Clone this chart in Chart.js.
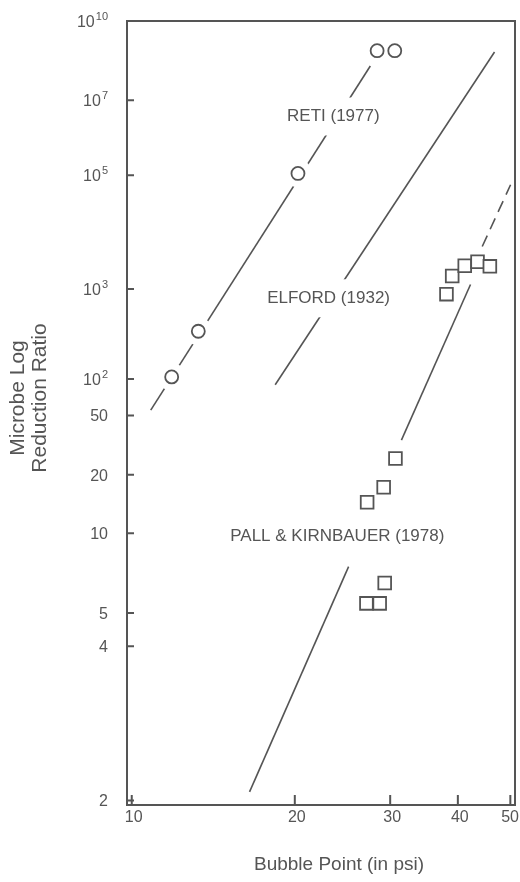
<!DOCTYPE html>
<html>
<head>
<meta charset="utf-8">
<title>Bubble point vs microbe log reduction</title>
<script src="https://cdn.jsdelivr.net/npm/chart.js@4.4.0/dist/chart.umd.min.js"></script>
<style>
  html, body { margin: 0; padding: 0; background: #fff; }
  #wrap { width: 520px; height: 882px; }
</style>
</head>
<body>
<div id="wrap"><canvas id="chart" width="520" height="882"></canvas></div>
<script>
// Values. LRV = log10 of the reduction ratio,
// the y axis is a log scale of that value.
const retiPsi = [11.85, 13.27, 20.27, 28.38, 30.59];
const retiLRV = [2.02, 2.48, 5.04, 8.75, 8.75];

const pallPsi = [27.12, 28.69, 29.31, 27.20, 29.18, 30.68, 38.11, 39.05, 41.19, 43.49, 45.83];
const pallLRV = [0.73, 0.73, 0.80, 1.15, 1.23, 1.40, 2.93, 3.18, 3.33, 3.39, 3.32];

// fitted lines (end points)
const retiFitPsi = [10.84, 27.57];
const retiFitLRV = [1.74, 8.17];
const elfordFitPsi = [18.40, 46.75];
const elfordFitLRV = [1.95, 8.70];
const pallLowPsi = [16.50, 25.14];
const pallLowLRV = [0.313, 0.861];
const pallMidPsi = [31.47, 42.21];
const pallMidLRV = [1.52, 3.06];
const pallDashPsi = [44.37, 50.05];
const pallDashLRV = [3.63, 4.79];

// axis ticks (y labels: base^exponent)
const xTicks = [10, 20, 30, 40, 50];
const yTickRatios = [1e10, 1e7, 1e5, 1e3, 1e2, 50, 20, 10, 5, 4, 2];
const yTickLabels = ['10^10', '10^7', '10^5', '10^3', '10^2', '50', '20', '10', '5', '4', '2'];

const xTitle = 'Bubble Point (in psi)';
const yTitle = ['Microbe Log', 'Reduction Ratio'];

// curve labels
const noteText = ['RETI (1977)', 'ELFORD (1932)', 'PALL & KIRNBAUER (1978)'];
const notePsi = [23.56, 23.09, 23.96];
const noteLRV = [6.51, 2.876, 0.988];

const INK = '#555';
const FONT = '"Liberation Sans", Arial, sans-serif';

const pts = (xs, ys) => xs.map((x, i) => ({ x: x, y: ys[i] }));
const yTickLRV = yTickRatios.map(v => Math.log10(v));

function fitLine(xs, ys, dash) {
    return {
        type: 'line',
        data: pts(xs, ys),
        showLine: true,
        borderColor: INK,
        borderWidth: 1.6,
        borderDash: dash || [],
        pointRadius: 0,
        fill: false,
        order: 3
    };
}

const frame = {
    id: 'frame',
    beforeDraw(chart) {
        const ctx = chart.ctx;
        ctx.save();
        ctx.fillStyle = '#fff';
        ctx.fillRect(0, 0, chart.width, chart.height);
        ctx.restore();
    },
    afterDatasetsDraw(chart) {
        const { ctx, chartArea: a, scales: { x, y } } = chart;
        ctx.save();

        // curve labels on a white patch that breaks the line
        ctx.font = '17px ' + FONT;
        ctx.textAlign = 'center';
        ctx.textBaseline = 'middle';
        noteText.forEach((t, i) => {
            const px = x.getPixelForValue(notePsi[i]);
            const py = y.getPixelForValue(noteLRV[i]);
            const w = ctx.measureText(t).width;
            ctx.fillStyle = '#fff';
            ctx.fillRect(px - w / 2 - 4, py - 19, w + 8, 38);
            ctx.fillStyle = INK;
            ctx.fillText(t, px, py);
        });

        ctx.fillStyle = INK;

        // x tick labels
        ctx.font = '16px ' + FONT;
        ctx.textAlign = 'center';
        ctx.textBaseline = 'middle';
        xTicks.forEach(v => {
            const w = ctx.measureText(String(v)).width;
            const px = Math.min(x.getPixelForValue(v) + 2, chart.width - 1 - w / 2);
            ctx.fillText(String(v), px, a.bottom + 13);
        });

        // y tick labels with superscript exponents
        ctx.textAlign = 'left';
        ctx.textBaseline = 'alphabetic';
        const baseFont = '16px ' + FONT;
        const supFont = '11px ' + FONT;
        yTickLabels.forEach((lab, i) => {
            const py = y.getPixelForValue(yTickLRV[i]);
            const [base, exp] = lab.split('^');
            ctx.font = baseFont;
            const wb = ctx.measureText(base).width;
            ctx.font = supFont;
            const we = exp ? ctx.measureText(exp).width + 1 : 0;
            const right = a.left - 19;
            ctx.font = baseFont;
            ctx.fillText(base, right - we - wb, py + 6);
            if (exp) {
                ctx.font = supFont;
                ctx.fillText(exp, right - we + 1, py - 1);
            }
        });

        // axis titles
        ctx.textAlign = 'center';
        ctx.textBaseline = 'middle';
        ctx.font = '19px ' + FONT;
        ctx.fillText(xTitle, 339, 865);
        ctx.save();
        ctx.translate(0, 398);
        ctx.rotate(-Math.PI / 2);
        ctx.font = '21px ' + FONT;
        ctx.fillText(yTitle[0], 0, 18);
        ctx.fillText(yTitle[1], 0, 40);
        ctx.restore();

        // box and inward ticks
        ctx.strokeStyle = INK;
        ctx.lineWidth = 2;
        ctx.strokeRect(a.left, a.top, a.right - a.left, a.bottom - a.top);
        ctx.beginPath();
        y.ticks.forEach(t => {
            const py = y.getPixelForValue(t.value);
            ctx.moveTo(a.left, py);
            ctx.lineTo(a.left + 7, py);
        });
        x.ticks.forEach(t => {
            const px = x.getPixelForValue(t.value);
            ctx.moveTo(px, a.bottom);
            ctx.lineTo(px, a.bottom - 10);
        });
        ctx.stroke();
        ctx.restore();
    }
};

new Chart(document.getElementById('chart'), {
    type: 'scatter',
    data: {
        datasets: [
            {
                label: 'Reti (1977)',
                data: pts(retiPsi, retiLRV),
                pointStyle: 'circle',
                pointRadius: 6.5,
                pointBorderWidth: 1.8,
                pointBorderColor: INK,
                pointBackgroundColor: '#fff',
                order: 0
            },
            {
                // white halo so the fitted line breaks around each circle
                data: pts(retiPsi, retiLRV),
                pointRadius: 14,
                pointBorderWidth: 0,
                pointBackgroundColor: '#fff',
                pointBorderColor: '#fff',
                order: 1
            },
            {
                label: 'Pall & Kirnbauer (1978)',
                data: pts(pallPsi, pallLRV),
                pointStyle: 'rect',
                pointRadius: 9,
                pointBorderWidth: 1.8,
                pointBorderColor: INK,
                pointBackgroundColor: '#fff',
                order: 0
            },
            fitLine(retiFitPsi, retiFitLRV),
            fitLine(elfordFitPsi, elfordFitLRV),
            fitLine(pallLowPsi, pallLowLRV),
            fitLine(pallMidPsi, pallMidLRV),
            fitLine(pallDashPsi, pallDashLRV, [12, 7])
        ]
    },
    options: {
        responsive: false,
        animation: false,
        layout: { autoPadding: false, padding: { top: 21, right: 5, left: 0, bottom: 0 } },
        plugins: {
            legend: { display: false },
            tooltip: { enabled: false }
        },
        scales: {
            x: {
                type: 'logarithmic',
                min: 9.8,
                max: 51,
                afterBuildTicks: axis => { axis.ticks = xTicks.map(v => ({ value: v })); },
                afterFit: axis => { axis.height = 77; },
                grid: { display: false, drawTicks: false },
                border: { display: false },
                ticks: { display: false }
            },
            y: {
                type: 'logarithmic',
                min: 0.295,
                max: 10,
                afterBuildTicks: axis => { axis.ticks = yTickLRV.slice().sort((p, q) => p - q).map(v => ({ value: v })); },
                afterFit: axis => { axis.width = 127; },
                grid: { display: false, drawTicks: false },
                border: { display: false },
                ticks: { display: false }
            }
        }
    },
    plugins: [frame]
});
</script>
</body>
</html>
